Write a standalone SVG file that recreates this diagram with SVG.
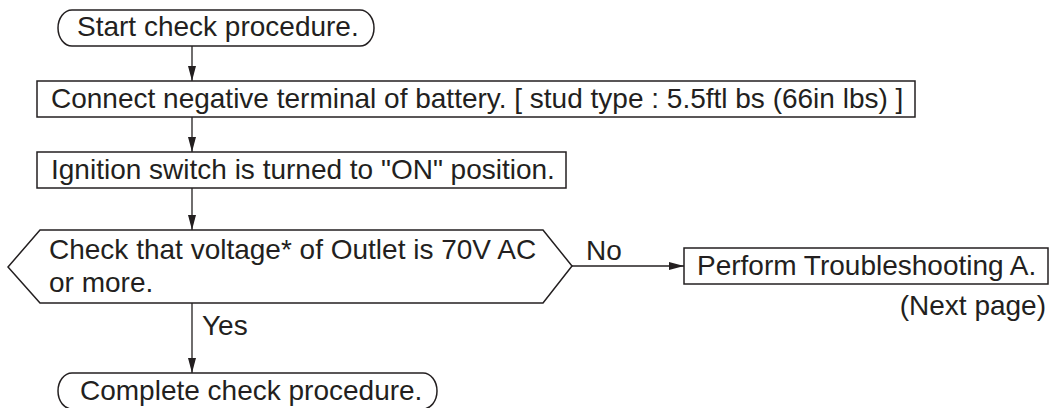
<svg xmlns="http://www.w3.org/2000/svg" width="1052" height="408" viewBox="0 0 1052 408">
<style>
.shape{fill:#fff;stroke:#231f20;stroke-width:1.5}
.t{font-family:"Liberation Sans",Arial,Helvetica,sans-serif;font-size:28px;fill:#231f20}
.conn{stroke:#231f20;stroke-width:1.3;fill:none}
</style>
<defs>
<marker id="ah" markerUnits="userSpaceOnUse" markerWidth="16" markerHeight="9" refX="15" refY="4" orient="auto">
<path d="M0,0 L15,4 L0,8 z" fill="#231f20"/>
</marker>
</defs>
<g id="connectors">
<line class="conn" x1="192" y1="46" x2="192" y2="81" marker-end="url(#ah)"/>
<line class="conn" x1="192" y1="117" x2="192" y2="152" marker-end="url(#ah)"/>
<line class="conn" x1="192" y1="188" x2="192" y2="230" marker-end="url(#ah)"/>
<line class="conn" x1="192" y1="303" x2="192" y2="373" marker-end="url(#ah)"/>
<line class="conn" x1="572" y1="266" x2="684" y2="266" marker-end="url(#ah)"/>
<text class="t" x="586" y="260">No</text>
<text class="t" x="202" y="335">Yes</text>
</g>
<g id="start">
<rect class="shape" x="58" y="10" width="316" height="36" rx="14" ry="18"/>
<text class="t" x="77" y="36">Start check procedure.</text>
</g>
<g id="connect">
<rect class="shape" x="37" y="81" width="878" height="36"/>
<text class="t" x="51" y="108">Connect negative terminal of battery. [ stud type : 5.5ftl bs (66in lbs) ]</text>
</g>
<g id="ignition">
<rect class="shape" x="37" y="152" width="529" height="36"/>
<text class="t" x="51" y="179">Ignition switch is turned to "ON" position.</text>
</g>
<g id="decision">
<polygon class="shape" points="40,230 543,230 572,266 543,303 40,303 8,267"/>
<text class="t" x="49" y="259">Check that voltage* of Outlet is 70V AC</text>
<text class="t" x="49" y="292">or more.</text>
</g>
<g id="perform">
<rect class="shape" x="684" y="248" width="364" height="36"/>
<text class="t" x="697" y="275">Perform Troubleshooting A.</text>
<text class="t" x="1046" y="315" text-anchor="end">(Next page)</text>
</g>
<g id="complete">
<rect class="shape" x="58" y="373" width="379" height="36" rx="14" ry="18"/>
<text class="t" x="80" y="400">Complete check procedure.</text>
</g>
</svg>
